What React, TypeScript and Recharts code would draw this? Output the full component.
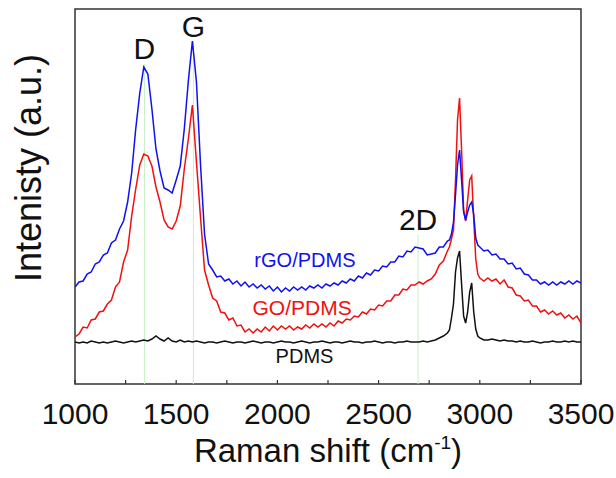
import React from 'react'
import { LineChart, Line, XAxis, YAxis, ReferenceLine, ReferenceArea, ReferenceDot } from 'recharts'

const FONT = '"Liberation Sans", Arial, sans-serif'

// Raman shift (cm-1)
const shifts = [
  1000, 1020, 1040, 1060, 1080, 1100, 1120, 1140, 1160, 1180,
  1200, 1220, 1240, 1260, 1280, 1300, 1320, 1340, 1360, 1380,
  1400, 1420, 1440, 1460, 1480, 1500, 1520, 1540, 1560, 1580,
  1600, 1620, 1640, 1660, 1680, 1700, 1720, 1740, 1760, 1780,
  1800, 1820, 1840, 1860, 1880, 1900, 1920, 1940, 1960, 1980,
  2000, 2020, 2040, 2060, 2080, 2100, 2120, 2140, 2160, 2180,
  2200, 2220, 2240, 2260, 2280, 2300, 2320, 2340, 2360, 2380,
  2400, 2420, 2440, 2460, 2480, 2500, 2520, 2540, 2560, 2580,
  2600, 2620, 2640, 2660, 2680, 2700, 2720, 2740, 2760, 2780,
  2800, 2820, 2840,
  2850, 2860, 2870, 2880, 2890, 2900, 2910, 2920, 2930, 2940,
  2950, 2960, 2970, 2980, 2990, 3000,
  3020, 3040, 3060, 3080, 3100, 3120, 3140, 3160, 3180, 3200,
  3220, 3240, 3260, 3280, 3300, 3320, 3340, 3360, 3380, 3400,
  3420, 3440, 3460, 3480, 3500,
]

// intensities (a.u., offset stacked)
const rgo = [
  97, 102, 103, 110, 112, 120, 122, 129, 131, 141,
  144, 155, 163, 182, 211, 255, 291, 317, 310, 275,
  235, 213, 196, 194, 191, 204, 218, 255, 303, 343,
  302, 220, 150, 120, 114, 107, 108, 103, 105, 100,
  103, 98, 102, 97, 100, 96, 99, 95, 98, 93,
  97, 92, 96, 93, 97, 94, 97, 94, 98, 96,
  99, 96, 100, 98, 101, 99, 103, 101, 105, 103,
  108, 106, 111, 109, 114, 113, 118, 117, 122, 122,
  128, 127, 133, 132, 137, 136, 135, 129, 130, 131,
  137, 137, 143,
  144, 150, 162, 189, 219, 234, 204, 172, 164, 172,
  179, 182, 169, 146, 139, 137,
  133, 134, 129, 130, 125, 125, 120, 121, 115, 116,
  110, 109, 104, 104, 100, 102, 99, 102, 99, 102,
  100, 103, 100, 103, 101,
]

const go = [
  47, 50, 57, 56, 64, 65, 72, 73, 80, 84,
  97, 102, 122, 134, 168, 195, 219, 230, 228, 218,
  197, 182, 164, 157, 155, 163, 178, 215, 245, 279,
  222, 167, 114, 99, 86, 83, 72, 71, 64, 66,
  58, 59, 52, 55, 51, 55, 52, 57, 53, 58,
  54, 58, 55, 58, 54, 57, 55, 59, 56, 60,
  57, 60, 57, 61, 58, 63, 61, 65, 64, 68,
  67, 72, 70, 75, 74, 79, 78, 83, 83, 89,
  89, 95, 94, 99, 99, 102, 100, 103, 105, 110,
  119, 123, 133,
  137, 145, 154, 204, 264, 286, 234, 174, 163, 184,
  204, 208, 165, 125, 110, 106,
  103, 106, 103, 105, 100, 104, 97, 96, 89, 88,
  83, 84, 78, 78, 72, 74, 70, 73, 69, 71,
  66, 69, 65, 68, 61,
]

const pdms = [
  42, 41, 42, 41, 43, 42, 41, 42, 41, 42,
  43, 42, 41, 42, 43, 42, 43, 44, 43, 45,
  48, 45, 43, 46, 43, 42, 44, 42, 43, 42,
  43, 42, 41, 42, 42, 41, 42, 43, 42, 41,
  42, 42, 41, 42, 43, 42, 41, 42, 42, 41,
  42, 43, 42, 42, 41, 42, 43, 42, 41, 42,
  42, 43, 42, 41, 42, 42, 41, 42, 43, 42,
  42, 41, 42, 42, 43, 42, 41, 42, 42, 41,
  42, 42, 43, 42, 42, 42, 43, 42, 43, 44,
  46, 48, 51,
  54, 66, 80, 112, 126, 133, 100, 68, 61, 72,
  92, 101, 72, 55, 48, 46,
  44, 44, 45, 44, 43, 44, 43, 43, 42, 43,
  42, 42, 43, 42, 41, 42, 42, 43, 42, 42,
  43, 42, 43, 42, 42,
]

const xTicks = [1000, 1250, 1500, 1750, 2000, 2250, 2500, 2750, 3000, 3250, 3500]

// band markers
const bandNames = ['D', 'G', '2D']
const bandShifts = [1343, 1585, 2695]
const bandTops = [320, 342, 149]

const data = shifts.map((s, i) => ({ shift: s, rgo: rgo[i], go: go[i], pdms: pdms[i] }))

const ShiftTick = (props: any) => {
  const { x, y, payload } = props
  const major = payload.value % 500 === 0
  return (
    <g>
      <line x1={x} y1={y} x2={x} y2={y - 4} stroke="#333" strokeWidth={1.2} />
      {major && (
        <text x={x} y={y + 40} textAnchor="middle" fontSize={30} fill="#111" fontFamily={FONT}>
          {payload.value}
        </text>
      )}
    </g>
  )
}

const XTitle = ({ viewBox }: any) => (
  <text x={viewBox.x + viewBox.width / 2} y={viewBox.y + 78} textAnchor="middle" fontSize={33} fill="#111" fontFamily={FONT}>
    Raman shift (cm
    <tspan dy={-13} fontSize={19}>-1</tspan>
    <tspan dy={13}>)</tspan>
  </text>
)

export default function App() {
  return (
    <div style={{ position: 'absolute', left: 0, top: 0, width: 616, height: 478, background: '#fff' }}>
      <LineChart width={616} height={478} data={data} margin={{ top: 9, right: 35, bottom: 0, left: 75 }}>
        <XAxis
          dataKey="shift"
          type="number"
          domain={[1000, 3500]}
          ticks={xTicks}
          interval={0}
          height={94}
          tickSize={0}
          tickMargin={0}
          tickLine={false}
          axisLine={false}
          tick={<ShiftTick />}
          allowDataOverflow
          label={{ content: (p: any) => <XTitle {...p} /> }}
        />
        <YAxis type="number" domain={[0, 375]} width={0} axisLine={false} tickLine={false} tick={false} allowDataOverflow />
        {bandNames.map((name, i) => (
          <ReferenceLine
            key={name}
            segment={[{ x: bandShifts[i], y: 0 }, { x: bandShifts[i], y: bandTops[i] }]}
            stroke="#c6f0c6"
            strokeWidth={1}
            label={{ value: name, position: 'top', offset: 5, fontSize: 30, fill: '#111', fontFamily: FONT }}
          />
        ))}
        <Line dataKey="pdms" stroke="#111" strokeWidth={1.5} dot={false} isAnimationActive={false} type="linear" />
        <Line dataKey="go" stroke="#f01010" strokeWidth={1.5} dot={false} isAnimationActive={false} type="linear" />
        <Line dataKey="rgo" stroke="#1010f0" strokeWidth={1.5} dot={false} isAnimationActive={false} type="linear" />
        <ReferenceDot x={2136} y={124} r={0} fill="none" stroke="none"
          label={{ value: 'rGO/PDMS', position: 'center', fontSize: 20, fill: '#1010f0', fontFamily: FONT }} />
        <ReferenceDot x={2122} y={76} r={0} fill="none" stroke="none"
          label={{ value: 'GO/PDMS', position: 'center', fontSize: 21, fill: '#f01010', fontFamily: FONT }} />
        <ReferenceDot x={2134} y={28} r={0} fill="none" stroke="none"
          label={{ value: 'PDMS', position: 'center', fontSize: 20, fill: '#111', fontFamily: FONT }} />
        <ReferenceArea x1={1000} x2={3500} y1={0} y2={375} fill="none" fillOpacity={0} stroke="#333" strokeWidth={1.5} />
      </LineChart>
      <svg width={70} height={478} style={{ position: 'absolute', left: 0, top: 0, pointerEvents: 'none' }}>
        <text x={28} y={168} transform="rotate(-90 28 168)" textAnchor="middle" dominantBaseline="central" fontSize={36} fill="#111" fontFamily={FONT}>
          Intenisty (a.u.)
        </text>
      </svg>
    </div>
  )
}
